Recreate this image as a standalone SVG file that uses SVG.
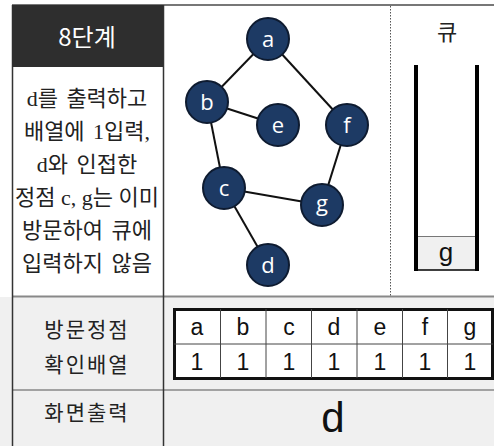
<svg xmlns="http://www.w3.org/2000/svg" width="494" height="446" viewBox="0 0 494 446">
<style>
.node circle{fill:#1d3a64;stroke:#0e1b30;stroke-width:2}
.node text{fill:#fff;font-family:"Open Sans","Noto Sans",sans-serif;font-size:22px;text-anchor:middle}
.edge{stroke:#111;stroke-width:2;fill:none}
.kr{font-family:"Liberation Serif","Noto Sans CJK KR",serif;font-size:22px;text-anchor:middle;fill:#222}
.desc{word-spacing:3px}
.cell{font-family:"Liberation Sans","Noto Sans CJK KR",sans-serif;font-size:23px;text-anchor:middle;fill:#111}
.grid{stroke:#444;stroke-width:1}
</style>
<rect x="0" y="0" width="494" height="446" fill="#fff"/>
<rect x="0" y="297" width="494" height="149" fill="#f0f0f0"/>
<g id="table-lines">
<line x1="12" y1="5" x2="494" y2="5" stroke="#777" stroke-width="2"/>
<line x1="12" y1="296.5" x2="494" y2="296.5" stroke="#888" stroke-width="2"/>
<line x1="12" y1="390" x2="494" y2="390" stroke="#888" stroke-width="1.5"/>
<line x1="12.5" y1="5" x2="12.5" y2="446" stroke="#333" stroke-width="1.5"/>
<line x1="163.5" y1="5" x2="163.5" y2="446" stroke="#333" stroke-width="1.5"/>
<line x1="390.5" y1="6" x2="390.5" y2="296" stroke="#555" stroke-width="1" stroke-dasharray="1.5,1.5"/>
</g>
<g id="header">
<rect x="12" y="5" width="151" height="62" fill="#2e2e2e"/>
<text x="87" y="46" font-family="Noto Sans CJK KR,sans-serif" font-size="24" fill="#fff" text-anchor="middle">8단계</text>
</g>
<g id="description">
<text x="87" y="106" class="kr desc">d를 출력하고</text>
<text x="87" y="139" class="kr desc">배열에 1입력,</text>
<text x="87" y="172" class="kr desc">d와 인접한</text>
<text x="87" y="205" class="kr" style="word-spacing:0">정점 c, g는 이미</text>
<text x="87" y="238" class="kr desc">방문하여 큐에</text>
<text x="87" y="271" class="kr desc">입력하지 않음</text>
</g>
<g id="connectors">
<line class="edge" x1="268" y1="39" x2="207" y2="102"/>
<line class="edge" x1="268" y1="39" x2="347" y2="125"/>
<line class="edge" x1="207" y1="102" x2="278" y2="125"/>
<line class="edge" x1="207" y1="102" x2="224" y2="188"/>
<line class="edge" x1="224" y1="188" x2="322" y2="205"/>
<line class="edge" x1="224" y1="188" x2="268" y2="265"/>
<line class="edge" x1="347" y1="125" x2="322" y2="205"/>
</g>
<g id="node-a" class="node"><circle cx="268" cy="39" r="21"/><text x="268" y="47">a</text></g>
<g id="node-b" class="node"><circle cx="207" cy="102" r="21"/><text x="207" y="110">b</text></g>
<g id="node-e" class="node"><circle cx="278" cy="125" r="21"/><text x="278" y="133">e</text></g>
<g id="node-f" class="node"><circle cx="347" cy="125" r="21"/><text x="347" y="133">f</text></g>
<g id="node-c" class="node"><circle cx="224" cy="188" r="21"/><text x="224" y="196">c</text></g>
<g id="node-g" class="node"><circle cx="322" cy="205" r="21"/><text x="322" y="211">g</text></g>
<g id="node-d" class="node"><circle cx="268" cy="265" r="21"/><text x="268" y="273">d</text></g>
<g id="queue">
<text x="447" y="40" class="kr">큐</text>
<rect x="416" y="236" width="61" height="34" fill="#f0f0f0"/>
<line x1="416" y1="236.5" x2="477" y2="236.5" stroke="#777" stroke-width="1"/>
<line x1="416" y1="65" x2="416" y2="271" stroke="#000" stroke-width="4"/>
<line x1="477" y1="65" x2="477" y2="271" stroke="#000" stroke-width="4"/>
<line x1="414" y1="270" x2="479" y2="270" stroke="#000" stroke-width="1.5"/>
<text x="446" y="261" class="cell" style="font-size:26px">g</text>
</g>
<g id="visited-label">
<text x="87" y="337" class="kr" style="font-size:21px;letter-spacing:2px">방문정점</text>
<text x="87" y="372" class="kr" style="font-size:21px;letter-spacing:2px">확인배열</text>
</g>
<g id="visited-array">
<rect x="174.5" y="309.5" width="318" height="69" fill="#fff" stroke="#111" stroke-width="3"/>
<line class="grid" x1="174" y1="344" x2="493" y2="344"/>
<line class="grid" x1="220.5" y1="309" x2="220.5" y2="378"/>
<line class="grid" x1="266" y1="309" x2="266" y2="378"/>
<line class="grid" x1="311.5" y1="309" x2="311.5" y2="378"/>
<line class="grid" x1="357" y1="309" x2="357" y2="378"/>
<line class="grid" x1="402.5" y1="309" x2="402.5" y2="378"/>
<line class="grid" x1="447.5" y1="309" x2="447.5" y2="378"/>
<text x="197" y="335" class="cell">a</text>
<text x="243" y="335" class="cell">b</text>
<text x="289" y="335" class="cell">c</text>
<text x="334" y="335" class="cell">d</text>
<text x="380" y="335" class="cell">e</text>
<text x="425" y="335" class="cell">f</text>
<text x="470" y="335" class="cell">g</text>
<text x="197" y="370" class="cell">1</text>
<text x="243" y="370" class="cell">1</text>
<text x="289" y="370" class="cell">1</text>
<text x="334" y="370" class="cell">1</text>
<text x="380" y="370" class="cell">1</text>
<text x="425" y="370" class="cell">1</text>
<text x="470" y="370" class="cell">1</text>
</g>
<g id="output">
<text x="87" y="420" class="kr" style="font-size:21px;letter-spacing:2px">화면출력</text>
<text x="333" y="432" class="cell" style="font-size:42px">d</text>
</g>
</svg>
